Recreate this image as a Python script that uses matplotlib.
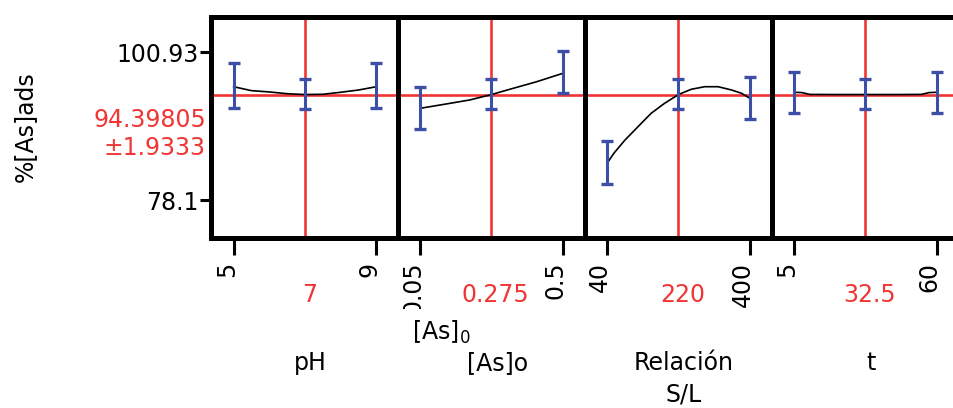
import matplotlib.pyplot as plt
from matplotlib.transforms import blended_transform_factory, Bbox, TransformedBbox

# factors, their low / centre / high levels and the current setting
factors = ['pH', '[As]o', 'Relación\nS/L', 't']
levels = [[5, 7, 9], [0.05, 0.275, 0.5], [40, 220, 400], [5, 32.5, 60]]
tick_labels = [['5', '9'], ['0.05', '0.5'], ['40', '400'], ['5', '60']]
center_labels = ['7', '0.275', '220', '32.5']

# error bars at each level (lower, upper)
bar_lo = [[92.27, 92.17, 92.27], [89.03, 92.17, 94.59], [80.57, 92.17, 90.62], [91.5, 92.12, 91.5]]
bar_hi = [[99.23, 96.76, 99.23], [95.61, 96.76, 101.13], [87.22, 96.76, 97.07], [97.93, 96.76, 97.93]]

# profile traces
ph_x = [5, 5.5, 6, 6.5, 7, 7.5, 8, 8.5, 9]
ph_y = [95.61, 95.0, 94.8, 94.53, 94.4, 94.44, 94.75, 95.1, 95.61]
as_x = [0.05, 0.132, 0.206, 0.275, 0.344, 0.418, 0.5]
as_y = [92.27, 92.94, 93.56, 94.4, 95.37, 96.39, 97.68]
sl_x = [40, 50, 58, 84, 118, 151, 185, 220, 252, 286, 320, 354, 379, 400]
sl_y = [83.77, 84.7, 85.4, 87.3, 89.44, 91.5, 93.05, 94.4, 95.21, 95.61, 95.61, 95.1, 94.59, 93.82]
t_x = [5, 8, 11, 20, 32.5, 45, 54, 57, 60]
t_y = [94.75, 94.7, 94.42, 94.4, 94.4, 94.4, 94.42, 94.7, 94.75]
traces = [(ph_x, ph_y), (as_x, as_y), (sl_x, sl_y), (t_x, t_y)]

mean = 94.39805
ci = 1.9333
y_ticks = [100.93, 78.1]

RED = '#f03535'
BLUE = '#3d4ea6'
FS = 17

W, H = 954, 408
fig = plt.figure(figsize=(W / 100, H / 100), dpi=100)

lefts = [211.5, 398, 585, 772]
clip = TransformedBbox(Bbox.from_extents(0, (H - 309) / H, 1, 1), fig.transFigure)

for i in range(4):
    ax = fig.add_axes([lefts[i] / W, 170 / H, 187 / W, 221.5 / H])
    lo, c, hi = levels[i]
    pad = 0.155 * (hi - lo)
    ax.set_xlim(lo - pad, hi + pad)
    ax.set_ylim(72.23, 106.46)

    ax.axhline(mean, color=RED, lw=1.9, zorder=1)
    ax.axvline(c, color=RED, lw=1.9, zorder=1)
    ax.plot(traces[i][0], traces[i][1], color='black', lw=1.2, zorder=2)
    mid = [(a + b) / 2 for a, b in zip(bar_lo[i], bar_hi[i])]
    err = [[m - a for m, a in zip(mid, bar_lo[i])], [b - m for m, b in zip(mid, bar_hi[i])]]
    ax.errorbar(levels[i], mid, yerr=err, fmt='none', ecolor=BLUE,
                elinewidth=2.2, capsize=4.3, capthick=2.4, zorder=3)

    for s in ax.spines.values():
        s.set_linewidth(3.6)

    ax.set_xticks([lo, hi], tick_labels[i])
    ax.tick_params(axis='x', length=12, width=2.2, pad=5, labelsize=FS, labelrotation=90)
    for lab in ax.get_xticklabels():
        lab.set_rotation_mode('anchor')
        lab.set_ha('right')
        lab.set_va('baseline')
        lab.set_clip_box(clip)
        lab.set_clip_on(True)

    if i == 0:
        ax.set_yticks(y_ticks, ['100.93', '78.1'])
        ax.tick_params(axis='y', length=8, width=2.2, pad=1, labelsize=FS)
    else:
        ax.set_yticks([])

    tr = blended_transform_factory(ax.transData, fig.transFigure)
    ax.annotate(center_labels[i], xy=(c, (H - 295) / H), xycoords=tr,
                xytext=(3, 0), textcoords='offset points',
                ha='center', va='center', color=RED, fontsize=FS, annotation_clip=False)

    tr2 = blended_transform_factory(ax.transAxes, fig.transFigure)
    ax.text(0.53, (H - 351) / H, factors[i], transform=tr2, ha='center', va='top',
            fontsize=FS, linespacing=1.42, multialignment='center')
    if i == 1:
        ax.text(0.075, (H - 319) / H, '[As]$_0$', transform=tr2, ha='left', va='top',
                fontsize=FS)

fig.text(25 / W, (H - 127) / H, '%[As]ads', rotation=90, ha='center', va='center', fontsize=FS)
fig.text(206 / W, (H - 134) / H, f'{mean}\n±{ci}', ha='right', va='center',
         color=RED, fontsize=FS, linespacing=1.25, multialignment='right')

fig.savefig('out.png', dpi=100)
